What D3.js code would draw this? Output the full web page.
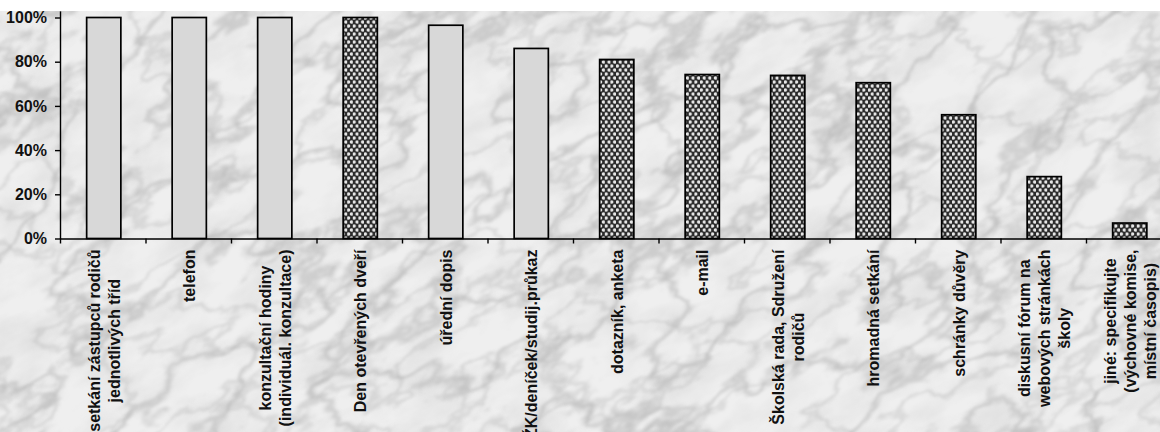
<!DOCTYPE html>
<html>
<head>
<meta charset="utf-8">
<script src="https://cdn.jsdelivr.net/npm/d3@7/dist/d3.min.js"></script>
<style>
  html, body { margin: 0; padding: 0; background: #ffffff; }
  svg { display: block; }
  text { font-family: "Liberation Sans", Arial, sans-serif; font-weight: bold; fill: #111; }
</style>
</head>
<body>
<svg id="chart" width="1160" height="432"></svg>
<script>
// ---------- data ----------
const categories = [
  ["setkání zástupců rodičů", "jednotlivých tříd"],
  ["telefon"],
  ["konzultační hodiny", "(individuál. konzultace)"],
  ["Den otevřených dveří"],
  ["úřední dopis"],
  ["ŽK/deníček/studij.průkaz"],
  ["dotazník, anketa"],
  ["e-mail"],
  ["Školská rada, Sdružení", "rodičů"],
  ["hromadná setkání"],
  ["schránky důvěry"],
  ["diskusní fórum na", "webových stránkách", "školy"],
  ["jiné: specifikujte", "(výchovné komise,", "místní časopis)"]
];
const values = [100, 100, 100, 100, 96.5, 86, 81, 74.2, 73.8, 70.5, 56, 28, 7];
// which bars are drawn with the hatched pattern (second group)
const hatched = [false, false, false, true, false, false, true, true, true, true, true, true, true];
const yTicks = [0, 20, 40, 60, 80, 100];

// ---------- layout ----------
const W = 1160, H = 432;
const left = 60, bottom = 238.5, pxPerPct = 2.21;
const step = 85.5;
const svg = d3.select("#chart");
const defs = svg.append("defs");

function veinFilter(id, freq, seed, strength, blur) {
  const f = defs.append("filter").attr("id", id)
    .attr("filterUnits", "userSpaceOnUse")
    .attr("x", -600).attr("y", -600).attr("width", 2400).attr("height", 1700);
  f.append("feTurbulence").attr("type", "fractalNoise")
    .attr("baseFrequency", freq).attr("numOctaves", 5).attr("seed", seed).attr("result", "n");
  f.append("feColorMatrix").attr("in", "n").attr("type", "matrix")
    .attr("values", "0 0 0 0 0.42  0 0 0 0 0.42  0 0 0 0 0.42  1 0 0 0 0").attr("result", "a");
  const ct = f.append("feComponentTransfer").attr("in", "a").attr("result", "v");
  const tv = d3.range(51).map(i => {
    const d = Math.abs(i - 25);
    return d === 0 ? strength : d === 1 ? strength * 0.6 : d === 2 ? strength * 0.2 : 0;
  });
  ct.append("feFuncA").attr("type", "table").attr("tableValues", tv.join(" "));
  f.append("feGaussianBlur").attr("in", "v").attr("stdDeviation", blur);
}
veinFilter("marble", "0.007 0.013", 11, 0.5, 0.9);
veinFilter("marble2", "0.01 0.02", 29, 0.35, 0.8);

// soft clouds
const f2 = defs.append("filter").attr("id", "cloud")
  .attr("filterUnits", "userSpaceOnUse")
  .attr("x", -600).attr("y", -600).attr("width", 2400).attr("height", 1700);
f2.append("feTurbulence").attr("type", "fractalNoise")
  .attr("baseFrequency", "0.015 0.03").attr("numOctaves", 4).attr("seed", 3).attr("result", "n");
f2.append("feColorMatrix").attr("in", "n").attr("type", "matrix")
  .attr("values", "0 0 0 0 0.5  0 0 0 0 0.5  0 0 0 0 0.5  1.4 0 0 0 -0.55");

// hatch pattern
const pat = defs.append("pattern").attr("id", "hatch")
  .attr("patternUnits", "userSpaceOnUse").attr("width", 5.6).attr("height", 8);
pat.append("rect").attr("width", 5.6).attr("height", 8).attr("fill", "#2a2a2a");
pat.append("circle").attr("cx", 1.4).attr("cy", 2).attr("r", 1.7).attr("fill", "#e6e6e6");
pat.append("circle").attr("cx", 4.2).attr("cy", 6).attr("r", 1.7).attr("fill", "#e6e6e6");

// background
svg.append("rect").attr("x", 0).attr("y", 11).attr("width", W).attr("height", H - 11).attr("fill", "#efefef");
const bgClip = defs.append("clipPath").attr("id", "bgclip");
bgClip.append("rect").attr("x", 0).attr("y", 11).attr("width", W).attr("height", H - 11);
const bg = svg.append("g").attr("clip-path", "url(#bgclip)")
  .append("g").attr("transform", "rotate(-30 580 216)");
bg.append("rect").attr("x", -400).attr("y", -400).attr("width", 2000).attr("height", 1300)
  .attr("filter", "url(#cloud)").attr("opacity", 0.4);
bg.append("rect").attr("x", -400).attr("y", -400).attr("width", 2000).attr("height", 1300)
  .attr("filter", "url(#marble)");
bg.append("rect").attr("x", -400).attr("y", -400).attr("width", 2000).attr("height", 1300)
  .attr("filter", "url(#marble2)");

// ---------- scales ----------
const keys = categories.map(c => c.join(" "));
const x = d3.scaleBand().domain(keys)
  .range([left, left + step * keys.length])
  .paddingInner(0.6).paddingOuter(0.3);
const yTop = 103;
const y = d3.scaleLinear().domain([0, yTop]).range([bottom, bottom - pxPerPct * yTop]);
const xTick = d3.scaleLinear().domain([0, keys.length]).range(x.range());

// ---------- bars ----------
svg.append("g").selectAll("rect").data(values).join("rect")
  .attr("x", (d, i) => x(keys[i]) + 1)
  .attr("y", d => y(d))
  .attr("width", x.bandwidth())
  .attr("height", d => y(0) - y(d))
  .attr("fill", (d, i) => hatched[i] ? "url(#hatch)" : "#d8d8d8")
  .attr("stroke", "#000").attr("stroke-width", 1.7);

// ---------- axes ----------
const yAxis = svg.append("g").attr("transform", `translate(${left},0)`)
  .call(d3.axisLeft(y).tickValues(yTicks).tickSize(5).tickSizeOuter(0).tickPadding(8).tickFormat(d => d + "%"));
yAxis.selectAll("text").style("font-size", "16px").attr("fill", "#111");
yAxis.selectAll("line, path").attr("stroke", "#000").attr("stroke-width", 1.4);

const xAxis = svg.append("g").attr("transform", `translate(0,${bottom})`)
  .call(d3.axisBottom(xTick).tickValues(d3.range(0, keys.length + 1)).tickSize(5).tickSizeOuter(0).tickFormat(""));
xAxis.selectAll("line, path").attr("stroke", "#000").attr("stroke-width", 1.4);

// ---------- category labels ----------
const lineH = 20;
const labelTop = bottom + 11;
const lg = svg.append("g").selectAll("g").data(categories).join("g")
  .attr("transform", (d, i) => `translate(${x(keys[i]) + x.bandwidth() / 2 + 1},${labelTop}) rotate(-90)`);
lg.each(function(lines) {
  const g = d3.select(this);
  const n = lines.length;
  const ts = lines.map((t, j) => g.append("text")
    .attr("text-anchor", "middle")
    .attr("dy", "0.36em")
    .attr("y", (j - (n - 1) / 2) * lineH)
    .style("font-size", "16px")
    .text(t));
  const maxLen = d3.max(ts, t => t.node().getComputedTextLength());
  ts.forEach(t => t.attr("x", -maxLen / 2));
});
</script>
</body>
</html>
